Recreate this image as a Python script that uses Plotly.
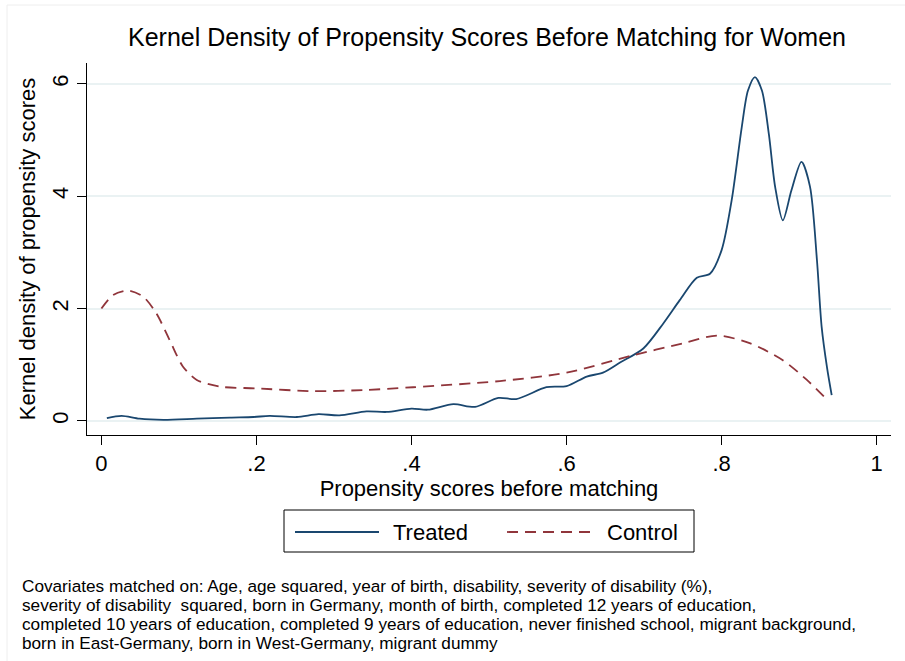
import plotly.graph_objects as go

# kernel density curves
treated_x = [0.007, 0.026, 0.049, 0.08, 0.123, 0.166, 0.196, 0.217, 0.252, 0.28, 0.307,
             0.342, 0.368, 0.4, 0.421, 0.454, 0.482, 0.512, 0.535, 0.574, 0.6, 0.626,
             0.647, 0.669, 0.699, 0.725, 0.746, 0.768, 0.785, 0.8, 0.813, 0.826, 0.834,
             0.843, 0.852, 0.861, 0.869, 0.879, 0.89, 0.903, 0.914, 0.923, 0.929, 0.936,
             0.942]
treated_y = [0.05, 0.09, 0.04, 0.02, 0.04, 0.06, 0.07, 0.09, 0.07, 0.12, 0.10,
             0.17, 0.16, 0.22, 0.20, 0.30, 0.25, 0.41, 0.39, 0.60, 0.62, 0.79,
             0.86, 1.04, 1.29, 1.74, 2.15, 2.55, 2.62, 3.04, 3.93, 5.23, 5.88,
             6.12, 5.88, 5.10, 4.17, 3.57, 4.10, 4.61, 4.17, 2.86, 1.68, 0.95,
             0.46]

control_x = [0.0, 0.015, 0.034, 0.054, 0.071, 0.088, 0.105, 0.123, 0.153, 0.2, 0.273,
             0.338, 0.402, 0.514, 0.6, 0.686, 0.75, 0.794, 0.837, 0.879, 0.91, 0.933]
control_y = [2.0, 2.24, 2.32, 2.21, 1.91, 1.44, 0.97, 0.73, 0.61, 0.58, 0.53,
             0.55, 0.60, 0.71, 0.86, 1.17, 1.38, 1.52, 1.38, 1.08, 0.73, 0.42]

x_ticks = [0, 0.2, 0.4, 0.6, 0.8, 1]
x_tick_labels = ["0", ".2", ".4", ".6", ".8", "1"]
y_ticks = [0, 2, 4, 6]
y_tick_labels = ["0", "2", "4", "6"]

note_lines = [
    "Covariates matched on: Age, age squared, year of birth, disability, severity of disability (%),",
    "severity of disability  squared, born in Germany, month of birth, completed 12 years of education,",
    "completed 10 years of education, completed 9 years of education, never finished school, migrant background,",
    "born in East-Germany, born in West-Germany, migrant dummy",
]

NAVY = "#1a476f"
MAROON = "#90353b"
FONT = "Liberation Sans, Arial, Helvetica, sans-serif"

W, H = 905, 661
L, R, T, B = 87, 14, 63, 226
PW, PH = W - L - R, H - T - B


def px(x):
    return (x - L) / PW


def py(y):
    return (H - B - y) / PH


fig = go.Figure()
fig.add_trace(go.Scatter(x=treated_x, y=treated_y, mode="lines", name="Treated",
                         line=dict(color=NAVY, width=1.8, shape="spline", smoothing=0.8)))
fig.add_trace(go.Scatter(x=control_x, y=control_y, mode="lines", name="Control",
                         line=dict(color=MAROON, width=1.8, dash="11px,7px",
                                   shape="spline", smoothing=0.8)))

# legend drawn by hand so the line samples match the long Stata keys
shapes = [
    dict(type="rect", xref="paper", yref="paper", x0=px(284), x1=px(694), y0=py(552), y1=py(510),
         line=dict(color="black", width=1), fillcolor="white"),
    dict(type="line", xref="paper", yref="paper", x0=px(295), x1=px(379), y0=py(532), y1=py(532),
         line=dict(color=NAVY, width=1.8)),
    dict(type="line", xref="paper", yref="paper", x0=px(507), x1=px(593), y0=py(532), y1=py(532),
         line=dict(color=MAROON, width=1.8, dash="11px,7px")),
    dict(type="rect", xref="paper", yref="paper", x0=px(7), x1=px(920), y0=py(680), y1=py(5),
         line=dict(color="#EEEEEE", width=1), layer="below"),
]
annotations = [
    dict(text="Treated", xref="paper", yref="paper", x=px(391), y=py(532), xanchor="left",
         yanchor="middle", showarrow=False, font=dict(size=22)),
    dict(text="Control", xref="paper", yref="paper", x=px(605), y=py(532), xanchor="left",
         yanchor="middle", showarrow=False, font=dict(size=22)),
]
for i, line in enumerate(note_lines):
    annotations.append(dict(text=line, xref="paper", yref="paper", x=px(20), y=py(586 + 19 * i),
                            xanchor="left", yanchor="middle", showarrow=False,
                            font=dict(size=17.2)))

fig.update_layout(
    width=W, height=H,
    margin=dict(l=L, r=R, t=T, b=B),
    paper_bgcolor="white", plot_bgcolor="white",
    font=dict(family=FONT, color="black", size=22),
    showlegend=False,
    title=dict(text="Kernel Density of Propensity Scores Before Matching for Women",
               x=px(487), xref="paper", xanchor="center",
               y=1 - 37 / H, yref="container", yanchor="middle",
               font=dict(size=25, color="black")),
    shapes=shapes,
    annotations=annotations,
)
fig.update_xaxes(
    range=[-0.0186, 1.0185], tickvals=x_ticks, ticktext=x_tick_labels,
    showline=True, linecolor="black", linewidth=1, mirror=False,
    ticks="outside", ticklen=9, tickcolor="black", tickwidth=1,
    showgrid=False, zeroline=False, tickfont=dict(size=22),
    title=dict(text="Propensity scores before matching", font=dict(size=22), standoff=2),
)
fig.update_yaxes(
    range=[-0.25, 6.37], tickvals=y_ticks, ticktext=y_tick_labels, tickangle=-90,
    showline=True, linecolor="black", linewidth=1,
    ticks="outside", ticklen=9, tickcolor="black", tickwidth=1,
    showgrid=True, gridcolor="#EAF2F3", gridwidth=1.5, zeroline=False,
    tickfont=dict(size=22),
    title=dict(text="Kernel density of propensity scores", font=dict(size=22), standoff=6),
)

# the page body has an 8px default margin; drop it so the figure sits at the window origin
fig.write_html("out.html", config={"displayModeBar": False},
               post_script="document.body.style.margin = '0';")
